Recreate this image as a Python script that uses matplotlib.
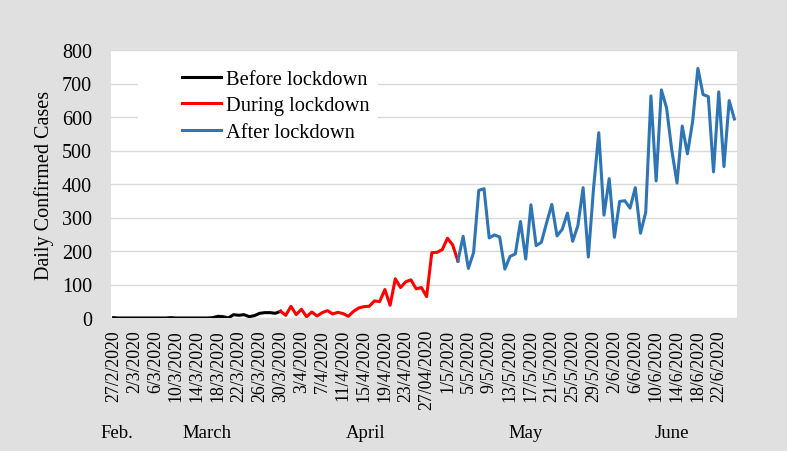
import matplotlib.pyplot as plt
from matplotlib.patches import Rectangle
from matplotlib import transforms

plt.rcParams['font.family'] = ['Liberation Serif', 'DejaVu Serif']

# daily confirmed cases, 27/2/2020 .. 25/6/2020 (one value per day)
cases = [
    1, 0, 0, 0, 0, 0, 0, 0, 0, 0, 0, 1, 0, 0, 0, 0, 0, 0, 0, 1,
    5, 4, 0, 10, 8, 10, 4, 7, 14, 16, 16, 14, 20, 8, 35, 10, 26, 4, 18, 6,
    16, 22, 12, 17, 13, 5, 20, 30, 34, 35, 51, 49, 85, 38, 117, 91, 108, 114, 87, 91,
    64, 195, 196, 204, 238, 218, 170, 244, 148, 195, 381, 386, 239, 248, 242, 146, 184, 191, 288, 176,
    338, 216, 226, 284, 339, 245, 265, 313, 229, 276, 389, 182, 387, 553, 307, 416, 241, 348, 350, 328,
    389, 253, 315, 663, 409, 681, 627, 501, 403, 573, 490, 587, 745, 667, 661, 436, 675, 452, 649, 594,
]

# phase boundaries (day index where each phase starts/ends)
lockdown_start = 32   # 30/3/2020
lockdown_end = 66     # 3/5/2020

tick_labels = ['27/2/2020', '2/3/2020', '6/3/2020', '10/3/2020', '14/3/2020', '18/3/2020',
               '22/3/2020', '26/3/2020', '30/3/2020', '3/4/2020', '7/4/2020', '11/4/2020',
               '15/4/2020', '19/4/2020', '23/4/2020', '27/04/2020', '1/5/2020', '5/5/2020',
               '9/5/2020', '13/5/2020', '17/5/2020', '21/5/2020', '25/5/2020', '29/5/2020',
               '2/6/2020', '6/6/2020', '10/6/2020', '14/6/2020', '18/6/2020', '22/6/2020']
months = ['Feb.', 'March', 'April', 'May', 'June']
month_pos = [0.6, 17.9, 48.4, 78.9, 107.0]

days = list(range(len(cases)))

fig = plt.figure(figsize=(7.87, 4.52), dpi=100, facecolor='#e0e0e0')
ax = fig.add_axes([111/787, 1 - 319/452, 626/787, 268/452])
ax.set_facecolor('white')

ax.plot(days[:lockdown_start + 1], cases[:lockdown_start + 1], color='black', lw=2.2,
        label='Before lockdown', solid_joinstyle='round')
ax.plot(days[lockdown_start:lockdown_end + 1], cases[lockdown_start:lockdown_end + 1],
        color='#ff0000', lw=2.2, label='During lockdown', solid_joinstyle='round')
ax.plot(days[lockdown_end:], cases[lockdown_end:], color='#2e75b6', lw=2.2,
        label='After lockdown', solid_joinstyle='round')

ax.set_xlim(-0.5, len(cases) - 0.5)
ax.set_ylim(0, 800)
ax.set_yticks(range(0, 801, 100))
ax.set_xticks(range(0, len(cases), 4))
ax.set_xticklabels(tick_labels, rotation=90, fontsize=12.8)
ax.tick_params(axis='y', length=0, pad=13.5, labelsize=14.5)
ax.tick_params(axis='x', length=0, pad=8)

ax.set_axisbelow(True)
ax.grid(axis='y', color='#d9d9d9', lw=1.0)
for s in ax.spines.values():
    s.set_visible(False)

# white legend background covering gridlines
ax.add_patch(Rectangle(((138 - 111) / 626, (319 - 148) / 268), (378 - 138) / 626, (148 - 58) / 268,
                       transform=ax.transAxes, facecolor='white', edgecolor='none', zorder=1))
leg = ax.legend(loc='center left', bbox_to_anchor=((181.7 - 111) / 626, (319 - 106.7) / 268),
                frameon=False, fontsize=14.8, handlelength=1.9, handletextpad=0.25,
                labelspacing=0.35, borderpad=0, borderaxespad=0)

fig.text(44/787, 1 - 185/452, 'Daily Confirmed Cases', rotation=90, ha='center', va='center',
         fontsize=14.5)

trans = transforms.blended_transform_factory(ax.transData, ax.transAxes)
for m, p in zip(months, month_pos):
    ax.text(p, (319 - 433) / 268, m, transform=trans, ha='center', va='center', fontsize=13.5)

fig.savefig('out.png', dpi=100, facecolor=fig.get_facecolor())
